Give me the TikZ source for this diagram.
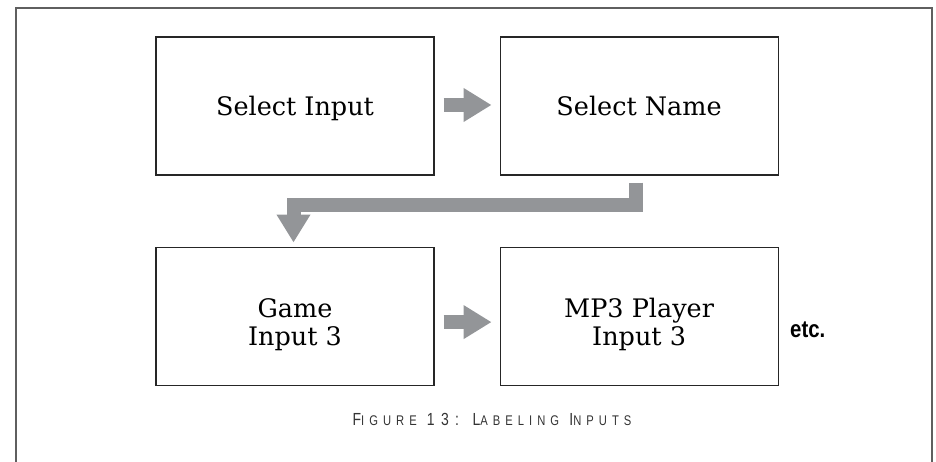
\documentclass[tikz,border=0pt]{standalone}
\usepackage{fontspec}
\setmainfont{DejaVu Serif}
\newfontfamily\capfont[FakeStretch=0.8,LetterSpace=36]{Liberation Sans}
\newfontfamily\etcfont[FakeStretch=0.85]{Liberation Sans}
\usepackage{tikz}
\usetikzlibrary{arrows.meta}
\usetikzlibrary{positioning}

\definecolor{arrowgray}{RGB}{147,149,152}
\definecolor{framegray}{RGB}{95,95,95}

\newcommand{\largecap}[1]{{\fontsize{17.5}{20}\selectfont #1}}
\newcommand{\smallcap}[1]{{\fontsize{14}{20}\selectfont #1}}

\tikzset{
  stepbox/.style={draw=black!85, line width=1.1pt, minimum width=278pt,
    minimum height=138pt, inner sep=0pt, align=center, text depth=0pt,
    font=\fontsize{25.5}{28}\selectfont},
  twoline/.style={text height=58pt},
  fatarrow/.style={draw=arrowgray, line width=14pt,
    -{Triangle[width=32pt,length=28pt]}},
}

\begin{document}
\begin{tikzpicture}[x=1pt,y=1pt]
\useasboundingbox (0,0) rectangle (936,462);

% frame, open at the bottom
\draw [framegray, line width=1.1pt] (16,0) -- (16,454) -- (932,454) -- (932,0);

\node [stepbox] (input) at (295,356) {Select Input};
\node [stepbox, right=65pt of input] (name) {Select Name};
\node [stepbox, twoline, below=71pt of input] (game) {Game\\Input 3};
\node [stepbox, twoline, right=65pt of game] (mp3) {MP3 Player\\Input 3};

\draw [fatarrow] ([xshift=9pt,yshift=1pt]input.east) -- ([xshift=-8pt,yshift=1pt]name.west);
\draw [fatarrow] ([xshift=-3pt,yshift=-7pt]name.south) -- ++(0,-22pt)
  -| ([xshift=-1.5pt,yshift=4pt]game.north);
\draw [fatarrow] ([xshift=9pt,yshift=-6pt]game.east) -- ([xshift=-8pt,yshift=-6pt]mp3.west);

\node [font=\etcfont\bfseries\fontsize{24}{26}\selectfont, anchor=west] (etc)
  at ([xshift=8pt,yshift=-14pt]mp3.east) {etc.};

\node [font=\capfont\fontsize{17.5}{20}\selectfont, text=black!80] (caption) at (492,43)
  {\largecap{F}\smallcap{IGURE} \largecap{13: L}\smallcap{ABELING} \largecap{I}\smallcap{NPUTS}};
\end{tikzpicture}
\end{document}
